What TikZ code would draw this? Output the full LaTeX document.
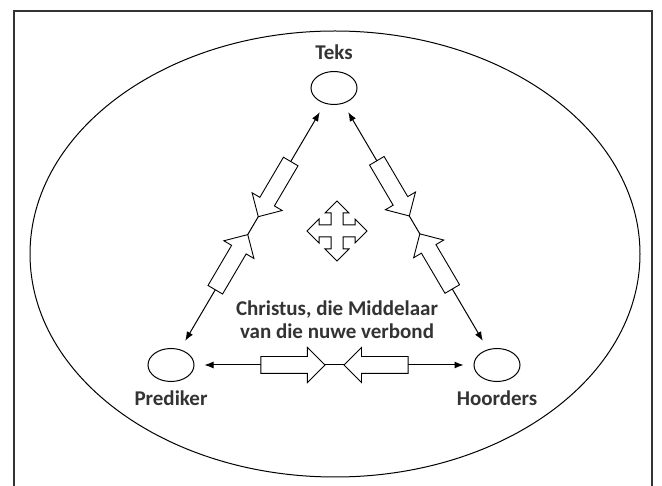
\documentclass[tikz,border=0pt]{standalone}
\usepackage{fontspec}
\setmainfont{Carlito}
\usetikzlibrary{positioning, shapes.geometric, shapes.arrows, arrows.meta}

\begin{document}
\begin{tikzpicture}[
  x=1pt, y=-1pt,
  pole/.style={ellipse, draw, line width=1pt, minimum width=46pt, minimum height=33pt, inner sep=0pt},
  lbl/.style={inner sep=0pt, font=\bfseries\fontsize{21}{23}\selectfont, text=black!80},
  link/.style={{Latex[length=9pt,width=7pt]}-{Latex[length=9pt,width=7pt]}, line width=1pt,
               shorten >=10pt, shorten <=10pt},
  block/.style={single arrow, draw, fill=white, line width=0.9pt, minimum height=64pt,
                minimum width=34pt, single arrow head extend=9pt, inner xsep=0pt, inner ysep=8pt,
                sloped, allow upside down}, % blok-pyl op die lyn
  frame/.style={draw=black!80, line width=1.5pt}
]
\useasboundingbox (0,0) rectangle (662,486);

% ====== RAAM EN GROOT OVAAL ======
\draw[frame] (14,486) -- (14,11) -- (652,11) -- (652,486);
\draw[line width=1pt] (335,254) ellipse [x radius=305, y radius=223];

% ====== DIE DRIE POLE ======
\node[pole] (teks) at (334,88) {};
\node[pole] (prediker) at (171,365) {};
\node[pole] (hoorders) at (497,365) {};

\node[lbl, above=11pt of teks] (teksLabel) {Teks};
\node[lbl, below=9pt of prediker] (predikerLabel) {Prediker};
\node[lbl, below=9pt of hoorders] (hoordersLabel) {Hoorders};

% ====== VERBINDINGS (pyle heen en terug) ======
\draw[link] (prediker) -- (teks)
  node[block, pos=0.34] (predikerUp) {}
  node[block, pos=0.667, shape border rotate=180] (teksDownLeft) {};

\draw[link] (hoorders) -- (teks)
  node[block, pos=0.343] (hoordersUp) {}
  node[block, pos=0.67, shape border rotate=180] (teksDownRight) {};

\draw[link] (prediker) -- (hoorders)
  node[block, pos=0.3375] (predikerRight) {}
  node[block, pos=0.666, shape border rotate=180] (hoordersLeft) {};

% ====== MIDDELAAR ======
\node[lbl, align=center] (middelaar) at (337,320) {Christus, die Middelaar\\van die nuwe verbond};

% vierrigting-pyl in die middel
\begin{scope}[shift={(337,231)}]
  \draw[line width=1pt, fill=white]
    (-6,-18) -- (-12,-18) -- (0,-30) -- (12,-18) -- (6,-18) -- (6,-6)
    -- (18,-6) -- (18,-12) -- (30,0) -- (18,12) -- (18,6) -- (6,6)
    -- (6,18) -- (12,18) -- (0,30) -- (-12,18) -- (-6,18) -- (-6,6)
    -- (-18,6) -- (-18,12) -- (-30,0) -- (-18,-12) -- (-18,-6) -- (-6,-6) -- cycle;
\end{scope}

\end{tikzpicture}
\end{document}
